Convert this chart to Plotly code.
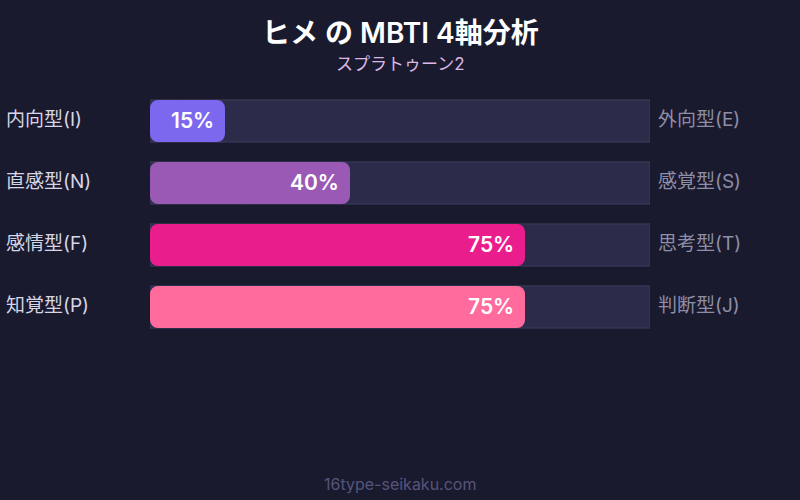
import plotly.graph_objects as go

# MBTI axes for the character
left_labels = ["内向型(I)", "直感型(N)", "感情型(F)", "知覚型(P)"]
right_labels = ["外向型(E)", "感覚型(S)", "思考型(T)", "判断型(J)"]
scores = [15, 40, 75, 75]
bar_colors = ["#7b68ee", "#9b59b6", "#e91e8c", "#ff6b9d"]

title = "ヒメ の MBTI 4軸分析"
subtitle = "スプラトゥーン2"
footer = "16type-seikaku.com"

FONT = "Inter, Noto Sans CJK JP, sans-serif"
BG = "#1a1a2e"

rows = list(range(len(scores)))
BAR_W = 0.68

fig = go.Figure()

# background track
fig.add_trace(go.Bar(
    x=[100] * len(rows), y=rows, orientation="h", width=BAR_W,
    marker=dict(color="#2d2b4a", line=dict(color="#3f3d5e", width=1)),
    hoverinfo="skip", showlegend=False,
))

# filled part: two overlapping pieces so both ends get rounded without a seam
left_base = [s // 2 + 2 for s in scores]
fig.add_trace(go.Bar(
    x=[-b for b in left_base], base=left_base, y=rows, orientation="h", width=BAR_W,
    marker=dict(color=bar_colors, cornerradius=8, line=dict(width=0)), opacity=1,
    hoverinfo="skip", showlegend=False,
))
right_base = [s // 2 - 2 for s in scores]
fig.add_trace(go.Bar(
    x=[s - b for s, b in zip(scores, right_base)], base=right_base, y=rows,
    orientation="h", width=BAR_W,
    marker=dict(color=bar_colors, cornerradius=8, line=dict(width=0)), opacity=1,
    hoverinfo="skip", showlegend=False,
))

annotations = []
for i, s in enumerate(scores):
    annotations.append(dict(
        x=s, y=i, xref="x", yref="y", text=f"{s}%", showarrow=False,
        xanchor="right", xshift=-9, yshift=1,
        font=dict(family=FONT, size=21, color="#ffffff", weight=600),
    ))
    annotations.append(dict(
        x=0, y=i, xref="paper", yref="y", text=left_labels[i], showarrow=False,
        xanchor="left", xshift=-146, yshift=2,
        font=dict(family=FONT, size=19, color="#d6d6e6"),
    ))
    annotations.append(dict(
        x=1, y=i, xref="paper", yref="y", text=right_labels[i], showarrow=False,
        xanchor="left", xshift=6, yshift=2,
        font=dict(family=FONT, size=19, color="#8e8ea6"),
    ))

# title block and footer, positioned relative to the plot area (90..338 px)
plot_h = 248
annotations += [
    dict(x=0.5, y=1 + (90 - 33) / plot_h, xref="paper", yref="paper", yanchor="middle",
         text=title, showarrow=False,
         font=dict(family=FONT, size=28, color="#ffffff", weight=600)),
    dict(x=0.5, y=1 + (90 - 64) / plot_h, xref="paper", yref="paper", yanchor="middle",
         text=subtitle, showarrow=False,
         font=dict(family=FONT, size=17, color="#dcb8e6")),
    dict(x=0.5, y=-(484 - 338) / plot_h, xref="paper", yref="paper", yanchor="middle",
         text=footer, showarrow=False,
         font=dict(family=FONT, size=16, color="#55557a")),
]

fig.update_layout(
    width=800, height=500,
    paper_bgcolor=BG, plot_bgcolor=BG,
    margin=dict(l=150, r=150, t=90, b=162),
    barmode="overlay",
    annotations=annotations,
    xaxis=dict(range=[0, 100], visible=False, fixedrange=True),
    yaxis=dict(range=[3.5, -0.5], visible=False, fixedrange=True),
    font=dict(family=FONT),
)

fig.write_html(
    "out.html",
    config={"displayModeBar": False},
    post_script="document.body.style.margin='0';document.body.style.background='%s';" % BG,
)
